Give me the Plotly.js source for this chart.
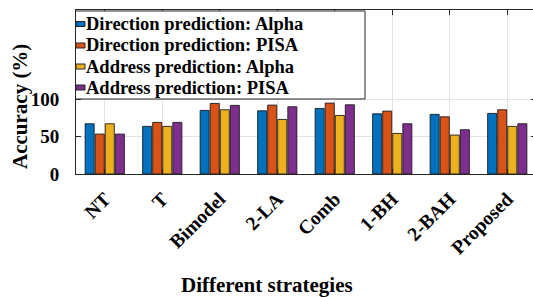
<!DOCTYPE html>
<html>
<head>
<meta charset="utf-8">
<script src="https://cdn.plot.ly/plotly-3.0.1.min.js"></script>
<style>
html, body { margin: 0; padding: 0; overflow: hidden; background: #fff; }
#chart { width: 540px; height: 297px; }
</style>
</head>
<body>
<div id="chart"></div>
<script>
// ---- data ----
const categories = ["NT", "T", "Bimodel", "2-LA", "Comb", "1-BH", "2-BAH", "Proposed"];
const seriesNames = [
  "Direction prediction: Alpha",
  "Direction prediction: PISA",
  "Address prediction: Alpha",
  "Address prediction: PISA"
];
const dirAlpha  = [67.1, 63.6, 84.9, 84.4, 87.6, 80.4, 79.6, 80.9];
const dirPISA   = [53.3, 68.9, 94.2, 92.0, 94.7, 84.0, 76.4, 85.8];
const addrAlpha = [67.1, 63.6, 85.8, 72.9, 78.2, 54.2, 52.0, 63.6];
const addrPISA  = [53.3, 68.9, 91.6, 89.8, 92.4, 67.1, 59.1, 67.1];
const yTicks = [0, 50, 100];
const xTitle = "Different strategies";
const yTitle = "Accuracy (%)";

// ---- styling ----
const colors = ["#0072BD", "#D95319", "#EDB120", "#7E2F8E"];
const values = [dirAlpha, dirPISA, addrAlpha, addrPISA];
const FONT = "Liberation Serif, Times New Roman, serif";
const b = s => "<b>" + s + "</b>";
const xpos = categories.map((c, i) => i + 1);

const traces = values.map((v, k) => ({
  type: "bar",
  x: xpos,
  y: v,
  name: seriesNames[k],
  marker: { color: colors[k], line: { color: "rgba(20,20,20,0.85)", width: 1 } },
  showlegend: false,
  hoverinfo: "skip"
}));

// plot-area geometry (pixels)
const W = 540, H = 297;
const M = { l: 76, r: 4, t: 10, b: 123 };
const PW = W - M.l - M.r, PH = H - M.t - M.b;
const px = x => (x - M.l) / PW;
const py = y => (M.t + PH - y) / PH;

// custom legend (box, swatches, labels)
const shapes = [{
  type: "rect", xref: "paper", yref: "paper", layer: "above",
  x0: px(75.5), x1: px(365), y0: py(99), y1: py(11),
  fillcolor: "#ffffff", line: { color: "#262626", width: 1 }
}];
const rowY = [24, 45.5, 66.5, 87.5];
const annotations = [];
seriesNames.forEach((n, k) => {
  shapes.push({
    type: "rect", xref: "paper", yref: "paper", layer: "above",
    x0: px(76), x1: px(85), y0: py(rowY[k] + 2.5), y1: py(rowY[k] - 2.5),
    fillcolor: colors[k], line: { color: "#262626", width: 1 }
  });
  annotations.push({
    xref: "paper", yref: "paper", x: px(84), y: py(rowY[k]),
    xanchor: "left", yanchor: "middle", showarrow: false,
    text: b(n), font: { family: FONT, size: 18.5, color: "#000" }
  });
});
// axis titles
annotations.push({
  xref: "paper", yref: "paper", x: px(267), y: py(285),
  xanchor: "center", yanchor: "middle", showarrow: false,
  text: b(xTitle), font: { family: FONT, size: 21, color: "#000" }
});
annotations.push({
  xref: "paper", yref: "paper", x: px(20), y: py(107),
  xanchor: "center", yanchor: "middle", showarrow: false, textangle: -90,
  text: b(yTitle), font: { family: FONT, size: 21, color: "#000" }
});

const layout = {
  width: W, height: H,
  margin: M,
  font: { family: FONT },
  paper_bgcolor: "#fff", plot_bgcolor: "#fff",
  barmode: "group", bargap: 0.3, bargroupgap: 0.1,
  showlegend: false,
  xaxis: {
    range: [0.5, 8.5],
    tickvals: xpos, ticktext: categories.map(b),
    tickangle: -45,
    ticks: "inside", ticklen: 5, tickcolor: "#262626",
    showline: true, linecolor: "#262626", linewidth: 1, mirror: "ticks",
    showgrid: true, gridcolor: "#e3e3e3", gridwidth: 1,
    zeroline: false,
    tickfont: { family: FONT, size: 19.5, color: "#000" },
    ticklabelstandoff: 5
  },
  yaxis: {
    range: [0, 219],
    tickvals: yTicks, ticktext: yTicks.map(v => b(String(v))),
    ticks: "inside", ticklen: 5, tickcolor: "#262626",
    showline: true, linecolor: "#262626", linewidth: 1, mirror: "ticks",
    showgrid: true, gridcolor: "#e3e3e3", gridwidth: 1,
    zeroline: false,
    tickfont: { family: FONT, size: 19, color: "#000" },
    ticklabelstandoff: 12
  },
  shapes: shapes,
  annotations: annotations
};

Plotly.newPlot("chart", traces, layout, { staticPlot: true, displayModeBar: false });
</script>
</body>
</html>
